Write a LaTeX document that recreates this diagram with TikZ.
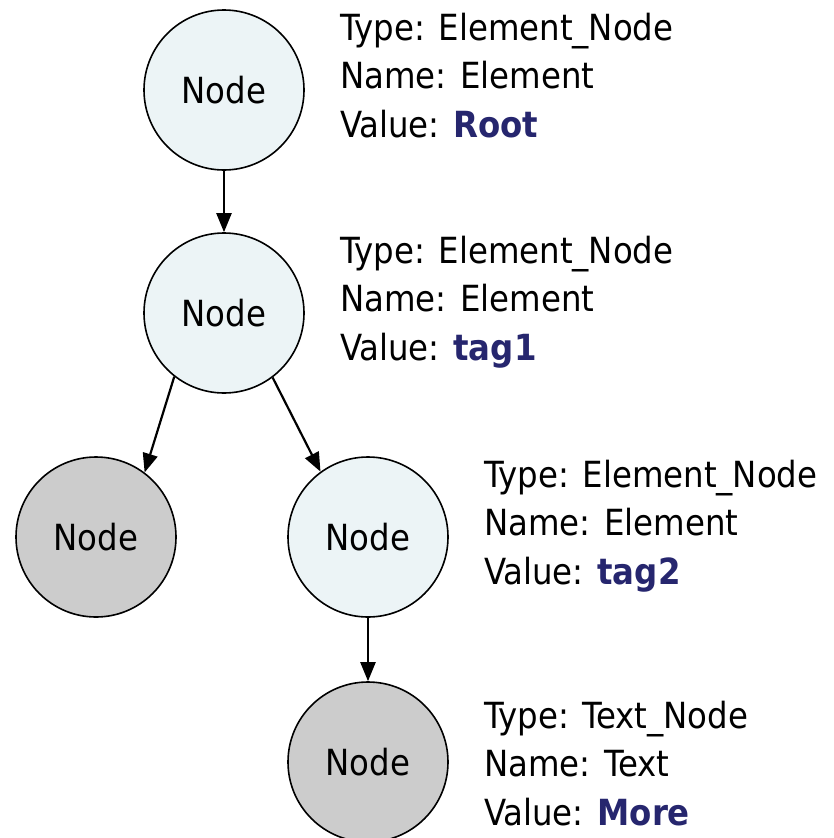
\documentclass[tikz,border=0pt]{standalone}
\usepackage{fontspec}
\setmainfont{DejaVu Sans Condensed}
\usetikzlibrary{arrows.meta}
\definecolor{lightfill}{RGB}{236,244,246}
\definecolor{grayfill}{RGB}{204,204,204}
\definecolor{valcol}{RGB}{38,38,110}
\begin{document}
\begin{tikzpicture}[x=1pt,y=-1pt,
  treenode/.style={circle,draw=black,line width=1.6pt,minimum size=160pt,inner sep=0pt,font=\fontsize{36}{40}\selectfont},
  elem/.style={treenode,fill=lightfill},
  txt/.style={treenode,fill=grayfill},
  info/.style={anchor=base west,inner sep=0pt,font=\fontsize{36}{40}\selectfont},
  conn/.style={line width=2.2pt,-{Triangle[length=19pt,width=15pt]}}]
\useasboundingbox (0,0) rectangle (834,838);
\node[elem] (n1) at (224,90) {Node};
\node[elem] (n2) at (224,313) {Node};
\node[txt]  (n3) at (96,537) {Node};
\node[elem] (n4) at (368,537) {Node};
\node[txt]  (n5) at (368,762) {Node};
\draw[conn] (n1) -- (n2);
\draw[conn] (n2.232) -- (n3.53);
\draw[conn] (n2.307) -- (n4.126);
\draw[conn] (n4) -- (n5);
\node[info] (a1) at (340,40) {Type: Element\_Node};
\node[info] (a2) at (340,88) {Name: Element};
\node[info] (a3) at (340,137) {Value: \textbf{\color{valcol}Root}};
\node[info] (b1) at (340,263) {Type: Element\_Node};
\node[info] (b2) at (340,311) {Name: Element};
\node[info] (b3) at (340,360) {Value: \textbf{\color{valcol}tag1}};
\node[info] (c1) at (484,487) {Type: Element\_Node};
\node[info] (c2) at (484,535) {Name: Element};
\node[info] (c3) at (484,584) {Value: \textbf{\color{valcol}tag2}};
\node[info] (d1) at (484,728) {Type: Text\_Node};
\node[info] (d2) at (484,776) {Name: Text};
\node[info] (d3) at (484,825) {Value: \textbf{\color{valcol}More}};
\end{tikzpicture}
\end{document}
